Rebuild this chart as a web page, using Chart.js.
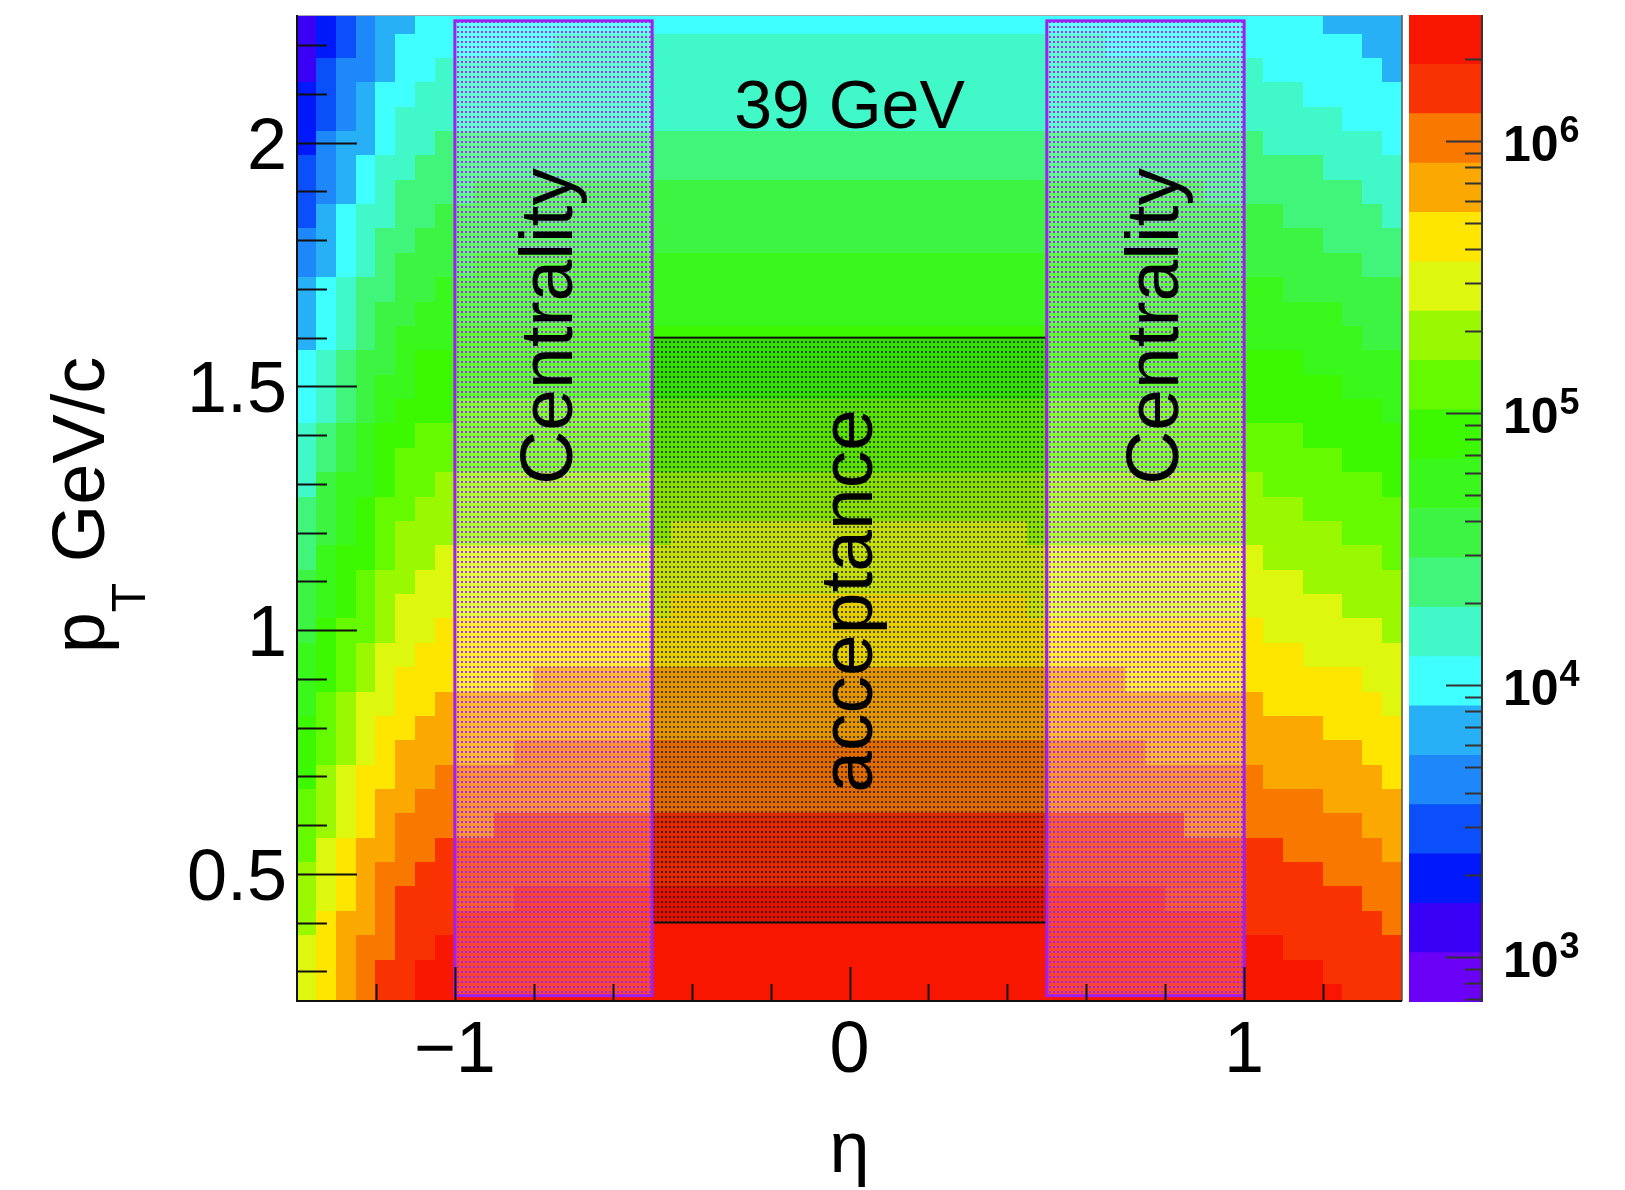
<!DOCTYPE html>
<html>
<head>
<meta charset="utf-8">
<script src="https://cdn.jsdelivr.net/npm/chart.js@4.4.1/dist/chart.umd.min.js"></script>
<style>
html, body { margin: 0; padding: 0; background: #fff; }
#wrap { position: relative; width: 1625px; height: 1190px; }
#main { position: absolute; left: 0; top: 0; }
#zbar { position: absolute; left: 1400px; top: 0; }
</style>
</head>
<body>
<div id="wrap">
  <canvas id="main" width="1625" height="1190"></canvas>
  <canvas id="zbar" width="225" height="1190"></canvas>
</div>
<script>
// ---- data ----
// pT bin centres (GeV/c) and log10(counts) along eta = 0
const ptRows = [0.25, 0.30, 0.35, 0.40, 0.45, 0.50, 0.55, 0.60, 0.65, 0.70,
    0.75, 0.80, 0.85, 0.90, 0.95, 1.00, 1.05, 1.10, 1.15, 1.20,
    1.25, 1.30, 1.35, 1.40, 1.45, 1.50, 1.55, 1.60, 1.65, 1.70,
    1.75, 1.80, 1.85, 1.90, 1.95, 2.00, 2.05, 2.10, 2.15, 2.20, 2.25]
const centreLogN = [6.445, 6.409, 6.373, 6.336, 6.295, 6.235, 6.177, 6.119, 6.057, 5.991,
    5.928, 5.866, 5.805, 5.743, 5.677, 5.616, 5.556, 5.496, 5.434, 5.374,
    5.316, 5.251, 5.186, 5.120, 5.057, 4.993, 4.930, 4.866, 4.805, 4.746,
    4.681, 4.618, 4.554, 4.490, 4.418, 4.347, 4.276, 4.220, 4.164, 4.109, 4.053]

// eta bin centres and the eta shape (log10, 0 at mid-rapidity)
const etaCols = [-1.375, -1.325, -1.275, -1.225, -1.175, -1.125, -1.075, -1.025, -0.975, -0.925,
    -0.875, -0.825, -0.775, -0.725, -0.675, -0.625, -0.575, -0.525, -0.475, -0.425,
    -0.375, -0.325, -0.275, -0.225, -0.175, -0.125, -0.075, -0.025, 0.025, 0.075,
    0.125, 0.175, 0.225, 0.275, 0.325, 0.375, 0.425, 0.475, 0.525, 0.575,
    0.625, 0.675, 0.725, 0.775, 0.825, 0.875, 0.925, 0.975, 1.025, 1.075,
    1.125, 1.175, 1.225, 1.275, 1.325, 1.375]
const etaLogShape = [-0.998, -0.780, -0.599, -0.427, -0.290, -0.172, -0.100, -0.058, -0.036, -0.022,
    -0.015, -0.009, -0.006, -0.004, -0.004, -0.003, -0.003, -0.003, -0.002, 0,
    0, 0, 0, 0, 0, 0, 0, 0, 0, 0,
    0, 0, 0, 0, 0, 0, 0, -0.002, -0.002, -0.003,
    -0.004, -0.006, -0.008, -0.011, -0.015, -0.021, -0.030, -0.042, -0.058, -0.077,
    -0.100, -0.125, -0.152, -0.183, -0.220, -0.270]
const ptHalf = 0.025
const etaHalf = 0.025

// z axis (colour scale)
const zMin = 681
const zMax = 2.9e6
const levelColors = ['#6a00f5', '#3a00f5', '#0018fa', '#0a4ffa', '#1e88fa', '#28b0f6', '#40ffff',
    '#40f8c8', '#40f57a', '#3ef442', '#3bf81c', '#3cf800', '#66fa00', '#9af800', '#ddf70e',
    '#ffe600', '#fba800', '#f87800', '#f83200', '#f81600']
const zDecades = [3, 4, 5, 6]

// axes
const etaRange = [-1.4, 1.4]
const ptRange = [0.239, 2.262]
const xMajorTicks = [-1, 0, 1]
const xMajorLabels = ['\u22121', '0', '1']
const yMajorTicks = [0.5, 1, 1.5, 2]
const yMajorLabels = ['0.5', '1', '1.5', '2']

// boxes drawn over the map
const boxNames = ['acceptance', 'Centrality', 'Centrality']
const boxEta = [[-0.5, 0.5], [-1, -0.5], [0.5, 1]]
const boxPt = [[0.4, 1.6], [0.25, 2.25], [0.25, 2.25]]
const boxTextAt = [[0.056, 1.06], [-0.704, 1.623], [0.833, 1.623]]
const energyLabel = '39 GeV'

const FONT = "'Liberation Sans', Arial, Helvetica, sans-serif"
const nLevels = levelColors.length
const logLo = Math.log10(zMin)
const logStep = (Math.log10(zMax) - logLo) / nLevels

function makePattern(ctx, base, dot, w, h) {
    const c = document.createElement('canvas')
    c.width = w
    c.height = h
    const g = c.getContext('2d')
    g.fillStyle = base
    g.fillRect(0, 0, w, h)
    g.fillStyle = dot
    g.fillRect(1, 1, 2, 2)
    return ctx.createPattern(c, 'repeat')
}

// heat map cells
const heatmapPlugin = {
    id: 'heatmap',
    beforeDatasetsDraw(chart) {
        const {ctx, chartArea, scales: {x, y}} = chart
        ctx.save()
        ctx.beginPath()
        ctx.rect(chartArea.left, chartArea.top, chartArea.width, chartArea.height)
        ctx.clip()
        ptRows.forEach((pt, j) => {
            const y0 = Math.floor(y.getPixelForValue(pt + ptHalf))
            const y1 = Math.ceil(y.getPixelForValue(pt - ptHalf))
            etaCols.forEach((eta, i) => {
                const logN = centreLogN[j] + etaLogShape[i]
                let lev = Math.floor((logN - logLo) / logStep)
                lev = Math.max(0, Math.min(nLevels - 1, lev))
                const x0 = Math.floor(x.getPixelForValue(eta - etaHalf))
                const x1 = Math.ceil(x.getPixelForValue(eta + etaHalf))
                ctx.fillStyle = levelColors[lev]
                ctx.fillRect(x0, y0, x1 - x0, y1 - y0)
            })
        })
        ctx.restore()
    }
}

// hatched boxes, labels, frame and ticks
const overlayPlugin = {
    id: 'overlay',
    afterDatasetsDraw(chart) {
        const {ctx, chartArea, scales: {x, y}} = chart
        const accPattern = makePattern(ctx, 'rgba(0,0,0,0.1)', 'rgba(0,0,0,0.6)', 4, 5)
        const cenPattern = makePattern(ctx, 'rgba(255,255,255,0.2)', 'rgba(150,30,255,0.85)', 4, 5)
        boxNames.forEach((name, k) => {
            const x0 = x.getPixelForValue(boxEta[k][0])
            const x1 = x.getPixelForValue(boxEta[k][1])
            const y0 = y.getPixelForValue(boxPt[k][1])
            const y1 = y.getPixelForValue(boxPt[k][0])
            const acc = name === 'acceptance'
            ctx.fillStyle = acc ? accPattern : cenPattern
            ctx.fillRect(x0, y0, x1 - x0, y1 - y0)
            ctx.lineWidth = acc ? 2 : 3
            ctx.strokeStyle = acc ? '#111' : '#a020f0'
            ctx.strokeRect(x0, y0, x1 - x0, y1 - y0)
        })
        ctx.fillStyle = '#000'
        boxNames.forEach((name, k) => {
            const px = x.getPixelForValue(boxTextAt[k][0])
            const py = y.getPixelForValue(boxTextAt[k][1])
            ctx.save()
            ctx.translate(px, py)
            ctx.rotate(-Math.PI / 2)
            ctx.font = '75px ' + FONT
            ctx.textAlign = 'center'
            ctx.textBaseline = 'alphabetic'
            ctx.fillText(name, 0, 0)
            ctx.restore()
        })
        ctx.font = '68px ' + FONT
        ctx.textAlign = 'center'
        ctx.textBaseline = 'alphabetic'
        ctx.fillText(energyLabel, x.getPixelForValue(0), y.getPixelForValue(2.03))
    },
    afterDraw(chart) {
        const {ctx, chartArea: a, scales: {x, y}} = chart
        ctx.save()
        // frame
        ctx.strokeStyle = '#aaa'
        ctx.lineWidth = 1
        ctx.beginPath()
        ctx.moveTo(a.left, a.top + 0.5)
        ctx.lineTo(a.right, a.top + 0.5)
        ctx.stroke()
        ctx.strokeStyle = '#555'
        ctx.lineWidth = 1.5
        ctx.beginPath()
        ctx.moveTo(a.right, a.top)
        ctx.lineTo(a.right, a.bottom)
        ctx.stroke()
        ctx.strokeStyle = '#111'
        ctx.lineWidth = 2
        ctx.beginPath()
        ctx.moveTo(a.left, a.top)
        ctx.lineTo(a.left, a.bottom)
        ctx.lineTo(a.right, a.bottom)
        ctx.stroke()
        // y ticks
        ctx.lineWidth = 2
        ctx.beginPath()
        for (let v = 0.3; v < ptRange[1]; v += 0.1) {
            const major = yMajorTicks.some(t => Math.abs(t - v) < 1e-6)
            const py = Math.round(y.getPixelForValue(v)) + 0.5
            ctx.moveTo(a.left, py)
            ctx.lineTo(a.left + (major ? 60 : 30), py)
        }
        // x ticks
        for (let v = -1.2; v < etaRange[1]; v += 0.2) {
            const major = xMajorTicks.some(t => Math.abs(t - v) < 1e-6)
            const px = Math.round(x.getPixelForValue(v)) + 0.5
            ctx.moveTo(px, a.bottom)
            ctx.lineTo(px, a.bottom - (major ? 34 : 17))
        }
        ctx.stroke()
        // tick labels
        ctx.fillStyle = '#000'
        ctx.font = '72px ' + FONT
        ctx.textAlign = 'right'
        ctx.textBaseline = 'alphabetic'
        yMajorTicks.forEach((v, k) => {
            ctx.fillText(yMajorLabels[k], a.left - 10, y.getPixelForValue(v) + 26)
        })
        ctx.textAlign = 'center'
        xMajorTicks.forEach((v, k) => {
            ctx.fillText(xMajorLabels[k], x.getPixelForValue(v), 1072)
        })
        // axis titles
        ctx.fillText('\u03b7', x.getPixelForValue(0), 1172)
        ctx.save()
        ctx.translate(104, (a.top + a.bottom) / 2 - 3)
        ctx.rotate(-Math.PI / 2)
        ctx.textAlign = 'left'
        ctx.font = '74px ' + FONT
        const w1 = ctx.measureText('p').width
        const w3 = ctx.measureText(' GeV/c').width
        ctx.font = '48px ' + FONT
        const w2 = ctx.measureText('T').width
        let sx = -(w1 + w2 + w3) / 2
        ctx.font = '74px ' + FONT
        ctx.fillText('p', sx, 0)
        ctx.font = '48px ' + FONT
        ctx.fillText('T', sx + w1, 41)
        ctx.font = '74px ' + FONT
        ctx.fillText(' GeV/c', sx + w1 + w2, 0)
        ctx.restore()
        ctx.restore()
    }
}

const mainChart = new Chart(document.getElementById('main'), {
    type: 'scatter',
    data: { datasets: [] },
    options: {
        responsive: false,
        animation: false,
        devicePixelRatio: 1,
        layout: { padding: { left: 297, right: 223, top: 15, bottom: 189 } },
        plugins: { legend: { display: false }, tooltip: { enabled: false } },
        scales: {
            x: { type: 'linear', display: false, min: etaRange[0], max: etaRange[1] },
            y: { type: 'linear', display: false, min: ptRange[0], max: ptRange[1] }
        }
    },
    plugins: [heatmapPlugin, overlayPlugin]
})

// colour bar ticks and labels
const zAxisPlugin = {
    id: 'zaxis',
    afterDraw(chart) {
        const {ctx, chartArea: a, scales: {y}} = chart
        ctx.save()
        ctx.strokeStyle = '#333'
        ctx.lineWidth = 2
        ctx.beginPath()
        ctx.moveTo(a.right, a.top)
        ctx.lineTo(a.right, a.bottom)
        for (let d = 2; d <= 6; d++) {
            for (let m = 1; m <= 9; m++) {
                const v = m * Math.pow(10, d)
                if (v < zMin || v > zMax) continue
                const py = Math.round(y.getPixelForValue(v)) + 0.5
                ctx.moveTo(a.right, py)
                ctx.lineTo(a.right - (m === 1 ? 36 : 17), py)
            }
        }
        ctx.stroke()
        ctx.fillStyle = '#000'
        ctx.textAlign = 'left'
        ctx.textBaseline = 'alphabetic'
        zDecades.forEach(d => {
            const py = y.getPixelForValue(Math.pow(10, d))
            ctx.font = 'bold 50px ' + FONT
            ctx.fillText('10', a.right + 21, py + 20)
            const w = ctx.measureText('10').width
            ctx.font = 'bold 36px ' + FONT
            ctx.fillText(String(d), a.right + 21 + w + 1, py + 1)
        })
        ctx.restore()
    }
}

const zBar = new Chart(document.getElementById('zbar'), {
    type: 'bar',
    data: {
        labels: [''],
        datasets: levelColors.map((c, k) => ({
            data: [[Math.pow(10, logLo + k * logStep), Math.pow(10, logLo + (k + 1) * logStep)]],
            backgroundColor: c,
            borderWidth: 0,
            grouped: false,
            barPercentage: 1,
            categoryPercentage: 1
        }))
    },
    options: {
        responsive: false,
        animation: false,
        devicePixelRatio: 1,
        layout: { padding: { left: 9, right: 143, top: 15, bottom: 188 } },
        plugins: { legend: { display: false }, tooltip: { enabled: false } },
        scales: {
            x: { display: false },
            y: { type: 'logarithmic', display: false, min: zMin, max: zMax }
        }
    },
    plugins: [zAxisPlugin]
})
</script>
</body>
</html>
